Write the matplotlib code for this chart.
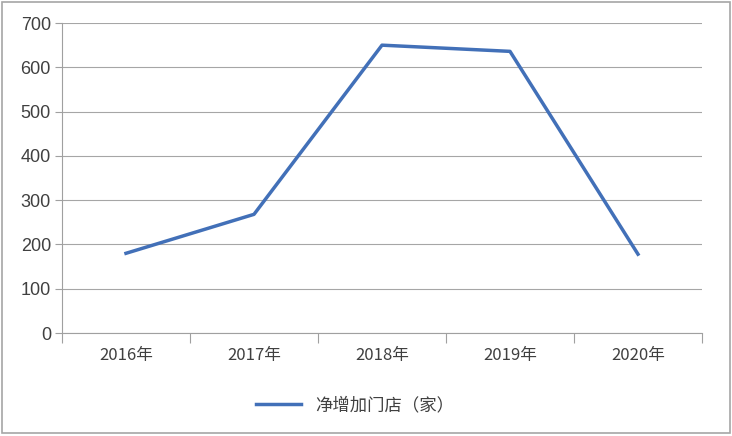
import numpy as np
import matplotlib.pyplot as plt
from matplotlib.patches import Rectangle

plt.rcParams['font.family'] = ['Noto Sans CJK SC', 'DejaVu Sans']

# 数据
years = ['2016年', '2017年', '2018年', '2019年', '2020年']
net_new = [180, 268, 650, 636, 178]
series_name = '净增加门店（家）'
yticks = [0, 100, 200, 300, 400, 500, 600, 700]

fig = plt.figure(figsize=(7.32, 4.36), dpi=100)
# 外框
fig.patches.append(Rectangle((0.003, 0.008), 0.994, 0.987, transform=fig.transFigure,
                             fill=False, edgecolor='#a6a6a6', linewidth=1.2))

ax = fig.add_axes([0.0847, 0.2362, 0.8743, 0.711])
x = np.arange(len(years))
line, = ax.plot(x, net_new, color='#4270b8', linewidth=2.5, label=series_name)

ax.set_xlim(-0.5, len(years) - 0.5)
ax.set_ylim(0, 700)
ax.set_yticks(yticks)
ax.set_yticklabels([str(v) for v in yticks], family=['Liberation Sans', 'DejaVu Sans'])
ax.set_xticks(x)
ax.set_xticklabels(years)
ax.set_xticks(np.arange(-0.5, len(years)), minor=True)
ax.tick_params(axis='x', which='major', length=0, pad=10, labelsize=12, colors='#404040')
ax.tick_params(axis='x', which='minor', length=7, color='#a0a0a0', width=0.8)
ax.tick_params(axis='y', length=5, width=0.8, labelsize=13, colors='#404040', pad=3)
ax.tick_params(axis='y', color='#a0a0a0')

ax.grid(axis='y', color='#a6a6a6', linewidth=0.8)
ax.set_axisbelow(True)
for s in ['top', 'right']:
    ax.spines[s].set_visible(False)
for s in ['left', 'bottom']:
    ax.spines[s].set_color('#a0a0a0')
    ax.spines[s].set_linewidth(0.8)

fig.legend(handles=[line], loc='center', bbox_to_anchor=(0.485, 0.071), frameon=False,
           fontsize=12.5, handlelength=2.6, labelcolor='#404040')

fig.savefig('out.png', dpi=100)
